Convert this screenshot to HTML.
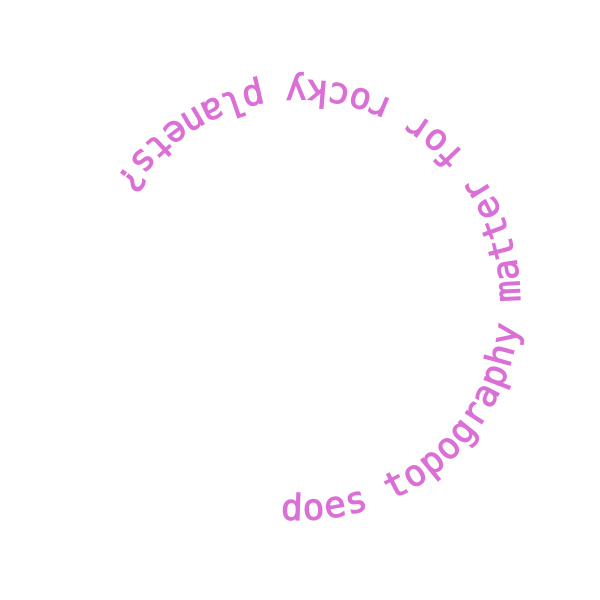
<!DOCTYPE html>
<html>
<head>
<meta charset="utf-8">
<style>
html,body{margin:0;padding:0;background:#fff;}
svg{display:block;}
</style>
</head>
<body>
<svg width="600" height="600" viewBox="0 0 600 600">
  <defs>
    <path id="circ" d="M 280.8 519.2 A 220 220 0 0 0 319.2 80.8 A 220 220 0 0 0 280.8 519.2"/>
  </defs>
  <text font-family="'DejaVu Sans Mono','Liberation Mono',monospace" font-size="36" fill="#DA70D6" stroke="#DA70D6" stroke-width="1" letter-spacing="1">
    <textPath href="#circ" startOffset="0">does topography matter for rocky planets?</textPath>
  </text>
</svg>
</body>
</html>
